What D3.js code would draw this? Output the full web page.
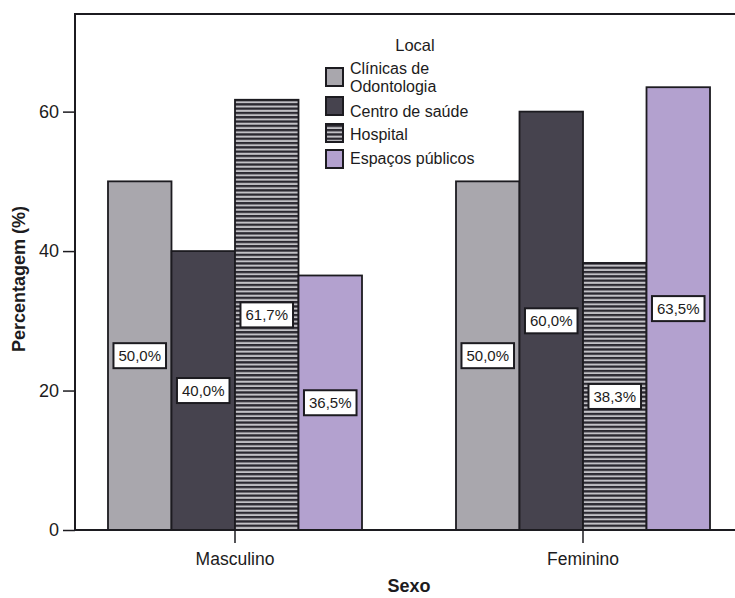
<!DOCTYPE html>
<html lang="pt">
<head>
<meta charset="utf-8">
<script src="https://cdn.jsdelivr.net/npm/d3@7"></script>
<style>
  html, body { margin: 0; padding: 0; background: #ffffff; }
  svg { display: block; font-family: "Liberation Sans", Arial, Helvetica, sans-serif; }
</style>
</head>
<body>
<svg id="chart" width="735" height="598"></svg>
<script>
// Percentagem por sexo e local
const sexos = ["Masculino", "Feminino"];
const locais = ["Clínicas de Odontologia", "Centro de saúde", "Hospital", "Espaços públicos"];
const legendaLinhas = [["Clínicas de", "Odontologia"], ["Centro de saúde"], ["Hospital"], ["Espaços públicos"]];
const masculino = [50.0, 40.0, 61.7, 36.5];
const feminino = [50.0, 60.0, 38.3, 63.5];
const yTicks = [0, 20, 40, 60];

const valores = { "Masculino": masculino, "Feminino": feminino };

const svg = d3.select("#chart");
const ink = "#1c1b20";

const plot = { left: 75, right: 743, top: 14, bottom: 530 };

const y = d3.scaleLinear().domain([0, 74]).range([plot.bottom, plot.top]);
const x = d3.scaleBand().domain(sexos).range([plot.left, plot.right])
  .paddingInner(0.2701).paddingOuter(0.0948);
const xi = d3.scaleBand().domain(locais).range([0, x.bandwidth()]);

// fills
const defs = svg.append("defs");
const stripes = defs.append("pattern").attr("id", "listras")
  .attr("patternUnits", "userSpaceOnUse").attr("width", 8).attr("height", 4.3);
stripes.append("rect").attr("width", 8).attr("height", 4.3).attr("fill", "#c2c1c6");
stripes.append("rect").attr("width", 8).attr("height", 2.3).attr("fill", "#2a2830");

const cores = d3.scaleOrdinal().domain(locais)
  .range(["#a9a7ad", "#46434e", "url(#listras)", "#b3a1cf"]);

// plot frame
svg.append("path")
  .attr("d", `M${plot.left},${plot.bottom}V${plot.top}H745`)
  .attr("fill", "none").attr("stroke", ink).attr("stroke-width", 2);

// bars
const grupos = svg.append("g").selectAll("g").data(sexos).join("g")
  .attr("transform", d => `translate(${x(d)},0)`);

grupos.selectAll("rect")
  .data(s => locais.map((l, i) => ({ sexo: s, local: l, v: valores[s][i] })))
  .join("rect")
  .attr("x", d => xi(d.local))
  .attr("y", d => y(d.v))
  .attr("width", xi.bandwidth())
  .attr("height", d => y(0) - y(d.v))
  .attr("fill", d => cores(d.local))
  .attr("stroke", ink).attr("stroke-width", 1.8);

// value labels
const fmt = v => d3.format(".1f")(v).replace(".", ",") + "%";
grupos.each(function(s) {
  const g = d3.select(this);
  valores[s].forEach((v, i) => {
    const cx = xi(locais[i]) + xi.bandwidth() / 2;
    const cy = y(v / 2);
    const lab = g.append("g").attr("transform", `translate(${cx},${cy})`);
    const box = lab.append("rect");
    const t = lab.append("text").text(fmt(v))
      .attr("text-anchor", "middle").attr("dy", "0.36em")
      .attr("font-size", 15).attr("fill", ink);
    const w = t.node().getComputedTextLength() + 10;
    box.attr("x", -w / 2).attr("y", -12.5).attr("width", w).attr("height", 25)
      .attr("fill", "#ffffff").attr("stroke", ink).attr("stroke-width", 2);
  });
});

// axes
const yAxis = svg.append("g").attr("transform", `translate(${plot.left},0)`)
  .call(d3.axisLeft(y).tickValues(yTicks).tickSize(12).tickPadding(4).tickFormat(d3.format("d")));
yAxis.select(".domain").remove();
yAxis.selectAll("line").attr("stroke", ink).attr("stroke-width", 1.5);
yAxis.selectAll("text").attr("font-size", 18).attr("fill", ink).attr("font-family", null);

const xAxis = svg.append("g").attr("transform", `translate(0,${plot.bottom})`)
  .call(d3.axisBottom(x).tickSize(13).tickPadding(10));
xAxis.select(".domain").attr("d", `M${plot.left},0H745`).attr("stroke", ink).attr("stroke-width", 2);
xAxis.selectAll("line").attr("stroke", ink).attr("stroke-width", 1.5);
xAxis.selectAll("text").attr("font-size", 17.5).attr("fill", ink).attr("font-family", null);

// axis titles
svg.append("text").text("Sexo")
  .attr("x", (x("Masculino") + x("Feminino") + x.bandwidth()) / 2).attr("y", 592)
  .attr("text-anchor", "middle").attr("font-size", 18).attr("font-weight", "bold").attr("fill", ink);

svg.append("text").text("Percentagem (%)")
  .attr("transform", "translate(25,279) rotate(-90)")
  .attr("text-anchor", "middle").attr("font-size", 18).attr("font-weight", "bold").attr("fill", ink);

// legend
const leg = svg.append("g");
leg.append("text").text("Local").attr("x", 415).attr("y", 51)
  .attr("text-anchor", "middle").attr("font-size", 16.5).attr("fill", ink);

const swatchY = [68, 97, 124, 150];
const linhaY = [[73.5, 92], [116.5], [140], [164]];
locais.forEach((l, i) => {
  leg.append("rect").attr("x", 326).attr("y", swatchY[i]).attr("width", 17).attr("height", 18)
    .attr("fill", cores(l)).attr("stroke", ink).attr("stroke-width", 2);
  legendaLinhas[i].forEach((linha, j) => {
    leg.append("text").text(linha).attr("x", 350).attr("y", linhaY[i][j])
      .attr("font-size", 16).attr("fill", ink);
  });
});
</script>
</body>
</html>
